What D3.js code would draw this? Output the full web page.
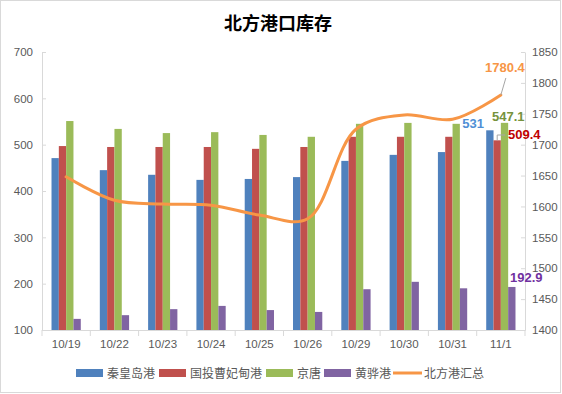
<!DOCTYPE html>
<html>
<head>
<meta charset="utf-8">
<script src="https://cdn.jsdelivr.net/npm/d3@7"></script>
<style>
body { margin: 0; background: #fff; }
svg { display: block; font-family: "Noto Sans CJK SC", "Noto Sans", sans-serif; }
</style>
</head>
<body>
<svg width="562" height="394"></svg>
<script>
var dates = ["10/19", "10/22", "10/23", "10/24", "10/25", "10/26", "10/29", "10/30", "10/31", "11/1"];
var qinhuangdao = [471, 445, 435, 424, 426, 430, 465, 478, 484, 531];
var caofeidian = [497, 495, 495, 495, 491, 495, 517, 517, 517, 509.4];
var jingtang = [551, 534, 525, 527, 521, 517, 545, 547, 545, 547.1];
var huanghua = [124, 132, 145, 152, 143, 139, 188, 204, 190, 192.9];
var northTotal = [1648, 1610, 1604, 1602, 1586, 1580, 1725, 1748, 1741, 1780.4];

var seriesNames = ["秦皇岛港", "国投曹妃甸港", "京唐", "黄骅港"];
var seriesColors = ["#4F81BD", "#C0504D", "#9BBB59", "#8064A2"];
var lineName = "北方港汇总";
var lineColor = "#F79646";
var leftTicks = [100, 200, 300, 400, 500, 600, 700];
var rightTicks = [1400, 1450, 1500, 1550, 1600, 1650, 1700, 1750, 1800, 1850];

var svg = d3.select("svg");
var plotLeft = 42, plotRight = 525, plotTop = 52, plotBottom = 330;

// chart border
svg.append("rect")
	.attr("x", 0.5).attr("y", 0.5)
	.attr("width", 560).attr("height", 392)
	.style("fill", "#fff")
	.style("stroke", "#D9D9D9");

svg.append("text")
	.attr("x", 278).attr("y", 30)
	.attr("text-anchor", "middle")
	.style("font-size", "18px")
	.style("font-weight", "bold")
	.style("fill", "#000")
	.text("北方港口库存");

var x0 = d3.scaleBand().domain(dates).range([plotLeft, plotRight]);
var x1 = d3.scaleBand().domain(d3.range(4)).range([0, x0.bandwidth()]).paddingOuter(1.3);
var yL = d3.scaleLinear().domain([100, 700]).range([plotBottom, plotTop]);
var yR = d3.scaleLinear().domain([1400, 1850]).range([plotBottom, plotTop]);

var axisColor = "#D9D9D9";
var labelColor = "#595959";

// left axis
var gL = svg.append("g")
	.attr("transform", "translate(" + plotLeft + ",0)")
	.call(d3.axisLeft(yL).tickValues(leftTicks).tickFormat(d3.format("d")).tickSizeInner(-4).tickSizeOuter(0).tickPadding(9));
// right axis
var gR = svg.append("g")
	.attr("transform", "translate(" + plotRight + ",0)")
	.call(d3.axisRight(yR).tickValues(rightTicks).tickFormat(d3.format("d")).tickSizeInner(-4).tickSizeOuter(0).tickPadding(7));
// bottom axis
var gX = svg.append("g")
	.attr("transform", "translate(0," + plotBottom + ")")
	.call(d3.axisBottom(x0).tickSize(0).tickPadding(10));
gX.selectAll(".sep")
	.data(d3.range(dates.length + 1))
	.enter().append("line")
	.attr("x1", function(i){ return plotLeft + i * x0.step(); })
	.attr("x2", function(i){ return plotLeft + i * x0.step(); })
	.attr("y1", 0).attr("y2", 6)
	.style("stroke", axisColor);

[gL, gR, gX].forEach(function(g){
	g.select(".domain").style("stroke", axisColor);
	g.selectAll(".tick line").style("stroke", axisColor);
	g.selectAll("text")
		.style("fill", labelColor)
		.style("font-size", "11.5px")
		.style("font-family", "'Liberation Sans', Arial, sans-serif");
});

// bars
var allSeries = [qinhuangdao, caofeidian, jingtang, huanghua];
allSeries.forEach(function(vals, s){
	svg.append("g")
		.selectAll("rect")
		.data(vals)
		.enter().append("rect")
		.attr("x", function(d, i){ return x0(dates[i]) + x1(s); })
		.attr("width", x1.bandwidth())
		.attr("y", function(d){ return yL(d); })
		.attr("height", function(d){ return plotBottom - yL(d); })
		.style("fill", seriesColors[s]);
});

// total line
var line = d3.line()
	.x(function(d, i){ return x0(dates[i]) + x0.bandwidth() / 2; })
	.y(function(d){ return yR(d); })
	.curve(d3.curveCatmullRom.alpha(0.5));
svg.append("path")
	.datum(northTotal)
	.attr("d", line)
	.style("fill", "none")
	.style("stroke", lineColor)
	.style("stroke-width", 3)
	.style("stroke-linecap", "round");

// labels for last date
var last = dates.length - 1;
var lastX = x0(dates[last]);
function label(txt, x, y, color, anchor){
	svg.append("text")
		.attr("x", x).attr("y", y)
		.attr("text-anchor", anchor || "start")
		.style("font-size", "13px")
		.style("font-weight", "bold")
		.style("font-family", "'Liberation Sans', Arial, sans-serif")
		.style("fill", color)
		.text(txt);
}
var lx = lastX + x0.bandwidth() / 2;
svg.append("path")
	.attr("d", "M" + lx + "," + yR(northTotal[last]) + "L" + (lx + 5) + "," + (yR(northTotal[last]) - 17))
	.style("stroke", "#A6A6A6").style("fill", "none");
label(northTotal[last], 485, 72, lineColor);

label(qinhuangdao[last], 484, 128, "#4F8FD5", "end");
label(jingtang[last], 492, 121, "#76923C");

var rx = lastX + x1(1) + x1.bandwidth() / 2;
svg.append("path")
	.attr("d", "M" + rx + "," + yL(caofeidian[last]) + "L" + rx + "," + 135 + "L" + (rx + 8) + "," + 135)
	.style("stroke", "#A6A6A6").style("fill", "none");
label(caofeidian[last], 508, 139, "#C00000");

label(huanghua[last], 510, 282, "#7030A0");

// legend
var legendItems = seriesNames.map(function(n, i){ return {name: n, color: seriesColors[i], type: "bar"}; });
legendItems.push({name: lineName, color: lineColor, type: "line"});
var legendX = [76, 159, 266, 324, 393];
var lg = svg.append("g");
legendItems.forEach(function(d, i){
	if(d.type == "bar"){
		lg.append("rect")
			.attr("x", legendX[i]).attr("y", 369)
			.attr("width", 27).attr("height", 8)
			.style("fill", d.color);
	}else{
		lg.append("line")
			.attr("x1", legendX[i]).attr("x2", legendX[i] + 29)
			.attr("y1", 373).attr("y2", 373)
			.style("stroke", d.color).style("stroke-width", 3);
	}
	lg.append("text")
		.attr("x", legendX[i] + 31).attr("y", 377.5)
		.style("font-size", "12px")
		.style("fill", labelColor)
		.text(d.name);
});
</script>
</body>
</html>
